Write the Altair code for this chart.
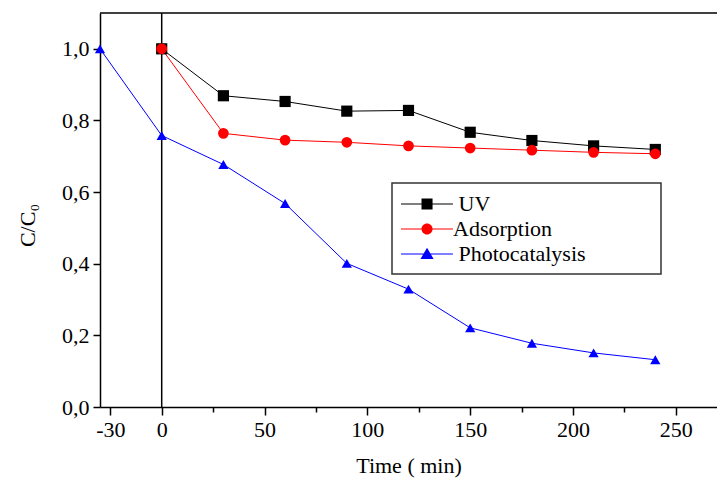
import altair as alt
import pandas as pd

SERIES = ["UV", "Adsorption", "Photocatalysis"]
COLORS = ["#000000", "#ff0000", "#0000ff"]
SHAPES = ["square", "circle", "triangle-up"]
SIZES = [125, 105, 140]

TIME = [-30, 0, 30, 60, 90, 120, 150, 180, 210, 240]
UV = [None, 1.0, 0.869, 0.853, 0.826, 0.828, 0.767, 0.744, 0.729, 0.719]
ADS = [None, 1.0, 0.764, 0.745, 0.739, 0.729, 0.723, 0.717, 0.711, 0.707]
PHOTO = [1.0, 0.758, 0.677, 0.568, 0.401, 0.329, 0.221, 0.178, 0.151, 0.132]

X_TICKS = [-25, 0, 25, 50, 75, 100, 125, 150, 175, 200, 225, 250]
X_LABELS = ["-30", "0", "", "50", "", "100", "", "150", "", "200", "", "250"]
Y_TICKS = [0.0, 0.1, 0.2, 0.3, 0.4, 0.5, 0.6, 0.7, 0.8, 0.9, 1.0]
Y_LABELS = ["0,0", "", "0,2", "", "0,4", "", "0,6", "", "0,8", "", "1,0"]

X_DOMAIN = [-30, 270]
Y_DOMAIN = [0, 1.1]
MARKER_TIME = [0]

rows = []
for name, vals in zip(SERIES, [UV, ADS, PHOTO]):
    for t, v in zip(TIME, vals):
        if v is not None:
            rows.append({"time": t, "value": v, "series": name})
df = pd.DataFrame(rows)


def label_expr(ticks, labels):
    expr = "''"
    for t, l in reversed(list(zip(ticks, labels))):
        expr = f"abs(datum.value - ({t})) < 1e-6 ? '{l}' : ({expr})"
    return expr


def minor_test(ticks, labels):
    parts = [f"abs(datum.value - ({t})) < 1e-6" for t, l in zip(ticks, labels) if l == ""]
    return " || ".join(parts) if parts else "false"


FONT = "Liberation Serif, Times New Roman, serif"

x_enc = alt.X(
    "time:Q",
    scale=alt.Scale(domain=X_DOMAIN, nice=False, zero=False),
    axis=alt.Axis(
        values=X_TICKS,
        labelExpr=label_expr(X_TICKS, X_LABELS),
        labelFont=FONT, labelFontSize=22, titleFont=FONT, titleFontSize=22,
        tickSize={"condition": {"test": minor_test(X_TICKS, X_LABELS), "value": 5}, "value": 8},
        labelPadding=4,
        labelFlush=False,
        titlePadding=15,
        grid=False,
    ),
    title="Time ( min)",
)
y_enc = alt.Y(
    "value:Q",
    scale=alt.Scale(domain=Y_DOMAIN, nice=False, zero=False),
    axis=alt.Axis(
        values=Y_TICKS,
        labelExpr=label_expr(Y_TICKS, Y_LABELS),
        labelFont=FONT, labelFontSize=22, titleFont=FONT, titleFontSize=22,
        tickSize={"condition": {"test": minor_test(Y_TICKS, Y_LABELS), "value": 5}, "value": 7},
        labelPadding=4,
        labelFlush=False,
        titlePadding=22,
        titleY=212,
        grid=False,
    ),
    title="C/C₀",
)

color_scale = alt.Scale(domain=SERIES, range=COLORS)

# legend symbols: line segment + marker (units of 12 px, centre offset to the right)
LINE = "M-1,-0.05H3.33V0.05H-1Z"
PATHS = [
    LINE + "M0.71,-0.46H1.63V0.46H0.71Z",
    LINE + "M1.63,0A0.46,0.46 0 1,1 0.71,0A0.46,0.46 0 1,1 1.63,0Z",
    LINE + "M1.17,-0.52L1.72,0.42L0.62,0.42Z",
]

# visible legend text: leading thin gap for UV / Photocatalysis; trailing blank widens the box
ZW = "\u200b"
LEAD = ZW + "\u2005"
TRAIL = "\u2002" * 6 + ZW
LEG_LABELS = [LEAD + "UV" + TRAIL, "Adsorption" + TRAIL, LEAD + "Photocatalysis" + TRAIL]

base = alt.Chart(df)

vline = alt.Chart(pd.DataFrame({"t": MARKER_TIME})).mark_rule(
    color="black", strokeWidth=1.5
).encode(x=alt.X("t:Q", scale=alt.Scale(domain=X_DOMAIN, nice=False, zero=False)))

top_line = alt.Chart(pd.DataFrame({"v": [Y_DOMAIN[1]]})).mark_rule(
    color="black", strokeWidth=1.5
).encode(y=alt.Y("v:Q", scale=alt.Scale(domain=Y_DOMAIN, nice=False, zero=False)))

lines = base.mark_line(strokeWidth=1).encode(
    x=x_enc, y=y_enc,
    color=alt.Color("series:N", scale=color_scale, legend=None),
)

points = base.mark_point(filled=True, opacity=1, strokeWidth=0).encode(
    x=x_enc, y=y_enc,
    color=alt.Color("series:N", scale=color_scale, legend=None),
    shape=alt.Shape("series:N", scale=alt.Scale(domain=SERIES, range=SHAPES), legend=None),
    size=alt.Size("series:N", scale=alt.Scale(domain=SERIES, range=SIZES), legend=None),
)

leg_props = dict(orient="none", legendX=292, legendY=170, title=None)

legend_layer = (
    base.transform_filter("false")
    .transform_calculate(lab="datum.series")
    .mark_point(filled=True, opacity=1)
    .encode(
        x=x_enc, y=y_enc,
        color=alt.Color("lab:N", scale=alt.Scale(domain=LEG_LABELS, range=COLORS),
                        legend=alt.Legend(**leg_props)),
        shape=alt.Shape("lab:N", scale=alt.Scale(domain=LEG_LABELS, range=PATHS),
                        legend=alt.Legend(**leg_props)),
    )
)

chart = alt.layer(vline, lines, points, legend_layer, top_line).resolve_scale(
    color="independent", shape="independent", size="independent"
).properties(
    width=617,
    height=394,
    padding={"left": 100, "top": 13, "right": 0, "bottom": 71},
    autosize="none",
    background="white",
).configure_view(stroke=None).configure_axis(
    domainColor="black", domainWidth=1.5, tickColor="black", tickWidth=1.5,
    labelFont=FONT, labelFontSize=22, labelColor="black",
    titleFont=FONT, titleFontSize=22, titleFontWeight="normal", titleColor="black",
).configure_legend(
    labelFont=FONT, labelFontSize=22, labelColor="black",
    symbolSize=576, symbolStrokeWidth=0, symbolOpacity=1,
    strokeColor="#333333", strokeWidth=1.5, fillColor="white",
    padding=9, rowPadding=2, labelOffset=28, labelLimit=500,
)

chart.save("out.html", embed_options={"renderer": "svg", "actions": False})
